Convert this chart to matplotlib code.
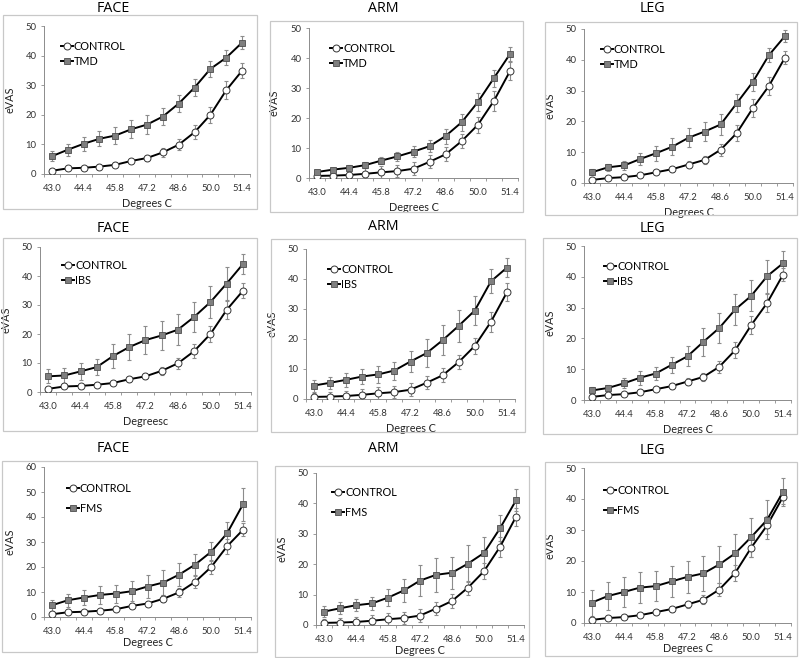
import numpy as np
import matplotlib
matplotlib.use('Agg')
import matplotlib.pyplot as plt
from matplotlib.patches import Rectangle

plt.rcParams['font.family'] = ['Lato', 'DejaVu Sans']

W, H = 800, 658

degrees = [43.0, 43.7, 44.4, 45.1, 45.8, 46.5, 47.2, 47.9, 48.6, 49.3, 50.0, 50.7, 51.4]
tick_labels = ['43.0', '44.4', '45.8', '47.2', '48.6', '50.0', '51.4']
regions = ['FACE', 'ARM', 'LEG']
groups = ['TMD', 'IBS', 'FMS']

# control group (same subjects in every row)
control_face = [1.1, 1.9, 2.1, 2.5, 3.1, 4.4, 5.4, 7.3, 9.9, 14.1, 20.0, 28.3, 34.9]
control_face_err = [0.5, 0.6, 0.7, 0.8, 0.8, 0.8, 1.0, 1.4, 1.9, 2.4, 2.8, 3.0, 2.6]
control_arm = [0.7, 0.8, 1.0, 1.4, 1.9, 2.3, 3.1, 5.4, 7.9, 12.3, 17.7, 25.7, 35.6]
control_arm_err = [1.2, 1.4, 1.7, 1.9, 2.0, 2.0, 2.1, 2.2, 2.3, 2.3, 2.6, 3.3, 3.0]
control_leg = [1.0, 1.6, 1.9, 2.5, 3.5, 4.5, 6.0, 7.5, 10.8, 16.2, 24.3, 31.5, 40.7]
control_leg_err = [0.4, 0.5, 0.5, 0.6, 0.7, 0.8, 1.0, 1.4, 2.0, 2.6, 2.9, 2.9, 2.2]

tmd_face = [6.0, 8.2, 10.2, 11.9, 13.0, 15.1, 16.7, 19.4, 23.8, 29.2, 35.5, 39.3, 44.4]
tmd_face_err = [1.7, 2.0, 2.4, 2.5, 2.9, 3.1, 3.1, 3.0, 2.9, 2.9, 2.8, 2.5, 2.1]
tmd_arm = [2.0, 2.8, 3.4, 4.3, 5.8, 7.2, 8.8, 10.6, 14.0, 18.6, 25.3, 33.3, 41.3]
tmd_arm_err = [0.5, 0.7, 0.8, 1.0, 1.2, 1.4, 1.8, 2.0, 2.5, 2.8, 3.0, 2.8, 2.3]
tmd_leg = [3.5, 5.1, 5.7, 7.8, 9.7, 11.8, 14.7, 16.7, 19.0, 25.9, 32.8, 41.5, 47.7]
tmd_leg_err = [1.0, 1.1, 1.5, 1.9, 2.4, 2.7, 3.0, 3.2, 3.3, 3.0, 2.8, 2.2, 2.0]

ibs_face = [5.4, 5.7, 7.1, 8.6, 12.4, 15.5, 17.9, 19.5, 21.5, 25.9, 31.0, 37.4, 44.1]
ibs_face_err = [2.4, 2.5, 2.8, 2.8, 4.1, 4.5, 4.9, 5.0, 5.3, 5.2, 5.6, 5.8, 3.5]
ibs_arm = [4.5, 5.4, 6.4, 7.5, 8.2, 9.5, 12.5, 15.3, 19.6, 24.4, 29.5, 39.2, 43.8]
ibs_arm_err = [2.0, 2.0, 2.4, 2.5, 2.8, 3.0, 3.6, 4.7, 5.0, 5.3, 4.8, 4.0, 3.1]
ibs_leg = [3.1, 3.9, 5.4, 7.2, 8.6, 11.4, 14.2, 18.9, 23.4, 29.4, 33.8, 40.2, 44.4]
ibs_leg_err = [1.0, 1.1, 1.6, 2.3, 2.2, 2.6, 3.2, 4.6, 5.0, 5.0, 5.0, 5.3, 4.0]

fms_face = [4.7, 6.7, 7.8, 8.8, 9.4, 10.3, 12.2, 13.8, 17.0, 21.0, 26.1, 33.5, 45.1]
fms_face_err = [2.3, 2.7, 3.0, 3.5, 3.6, 4.0, 4.6, 4.9, 4.5, 4.3, 3.8, 4.4, 6.6]
fms_arm = [4.4, 5.5, 6.5, 7.1, 9.0, 11.4, 14.6, 16.5, 17.2, 20.2, 23.7, 31.8, 41.0]
fms_arm_err = [1.8, 2.0, 2.0, 2.2, 2.8, 3.8, 5.0, 5.5, 5.3, 6.0, 5.3, 4.3, 3.6]
fms_leg = [6.6, 8.7, 10.0, 11.4, 11.9, 13.4, 14.9, 16.0, 18.9, 22.5, 27.7, 33.3, 42.3]
fms_leg_err = [4.2, 4.6, 4.9, 4.9, 4.9, 5.1, 5.2, 5.6, 6.0, 6.1, 6.3, 6.3, 4.5]

controls = [(control_face, control_face_err), (control_arm, control_arm_err), (control_leg, control_leg_err)]
patients = [
    [(tmd_face, tmd_face_err), (tmd_arm, tmd_arm_err), (tmd_leg, tmd_leg_err)],
    [(ibs_face, ibs_face_err), (ibs_arm, ibs_arm_err), (ibs_leg, ibs_leg_err)],
    [(fms_face, fms_face_err), (fms_arm, fms_arm_err), (fms_leg, fms_leg_err)],
]
ymax = [[50, 50, 50], [50, 50, 50], [60, 50, 50]]
xlabels = [['Degrees C'] * 3, ['Degreesc', 'Degrees C', 'Degrees C'], ['Degrees C'] * 3]

# layout in pixels: chart box (l, t, r, b), plot area (l, t, r, b), title centre, legend offset, legend spacing
boxes = [[(3, 15, 257, 209), (270, 21, 523, 212), (545, 22, 797, 215)],
         [(3, 238, 257, 431), (271, 239, 525, 432), (543, 238, 797, 434)],
         [(2, 461, 257, 652), (275, 466, 529, 657), (545, 462, 797, 656)]]
plots = [[(44, 26, 250, 174), (309, 28, 518, 178), (584, 29, 793, 183)],
         [(40, 247, 251, 392), (306, 249, 515, 399), (584, 246, 791, 400)],
         [(44, 467, 251, 617), (316, 473, 524, 625), (584, 468, 791, 623)]]
titles = [[(113, 8), (383, 8), (652, 9)],
          [(113, 228), (383, 227), (652, 228)],
          [(113, 449), (383, 448), (652, 450)]]
leg_off = [[(17, 15), (21, 15), (17, 15)],
           [(22, 13), (22, 15), (20, 15)],
           [(23, 16), (16, 14), (20, 17)]]
leg_space = [0.35, 0.35, 0.8]
xlab_off = [24, 24, 20]

fig = plt.figure(figsize=(8, 6.58), dpi=100)

step = degrees[1] - degrees[0]
bounds = [d - step / 2 for d in degrees] + [degrees[-1] + step / 2]

for r in range(3):
    for c in range(3):
        bl, bt, br, bb = boxes[r][c]
        fig.patches.append(Rectangle((bl / W, 1 - bb / H), (br - bl) / W, (bb - bt) / H,
                                     transform=fig.transFigure, fill=False,
                                     edgecolor='#c8c8c8', lw=0.9))
        tx, ty = titles[r][c]
        fig.text(tx / W, 1 - ty / H, regions[c], ha='center', va='center',
                 fontsize=10.3, family=['Open Sans', 'DejaVu Sans'])

        pl, pt, pr, pb = plots[r][c]
        ax = fig.add_axes([pl / W, 1 - pb / H, (pr - pl) / W, (pb - pt) / H])
        cy, ce = controls[c]
        py, pe = patients[r][c]

        ax.errorbar(degrees, cy, yerr=ce, fmt='none', ecolor='#8c8c8c', elinewidth=0.8,
                    capsize=1.5, capthick=0.8, zorder=2)
        ax.errorbar(degrees, py, yerr=pe, fmt='none', ecolor='#8c8c8c', elinewidth=0.8,
                    capsize=1.5, capthick=0.8, zorder=2)
        ax.plot(degrees, cy, '-o', color='black', lw=1.4, ms=5, mfc='white',
                mec='#333333', mew=0.7, label='CONTROL', zorder=3)
        ax.plot(degrees, py, '-s', color='black', lw=1.4, ms=4.6, mfc='#7f7f7f',
                mec='#4d4d4d', mew=0.6, label=groups[r], zorder=3)

        ax.set_xlim(bounds[0], bounds[-1])
        ax.set_ylim(0, ymax[r][c])
        ax.set_yticks(np.arange(0, ymax[r][c] + 1, 10))
        ax.set_xticks(degrees[::2])
        ax.set_xticklabels(tick_labels)
        ax.set_xticks(bounds, minor=True)
        ax.tick_params(axis='x', which='major', length=0, pad=7, labelsize=6.8, colors='#333333')
        ax.tick_params(axis='x', which='minor', length=2.5, width=0.6, color='#8c8c8c')
        ax.tick_params(axis='y', length=2.5, width=0.6, color='#8c8c8c', pad=3,
                       labelsize=6.8, labelcolor='#333333')
        for s in ['top', 'right']:
            ax.spines[s].set_visible(False)
        for s in ['left', 'bottom']:
            ax.spines[s].set_color('#8c8c8c')
            ax.spines[s].set_linewidth(0.7)

        hgt = pb - pt
        wid = pr - pl
        ax.set_xlabel(xlabels[r][c], fontsize=7.8, color='#222222')
        ax.xaxis.set_label_coords(0.5, -xlab_off[r] / hgt)
        ax.set_ylabel('eVAS', fontsize=7.8, color='#222222')
        ax.yaxis.set_label_coords(-29 / wid, 0.5)

        ox, oy = leg_off[r][c]
        ax.legend(loc='upper left', bbox_to_anchor=(ox / wid, 1 - oy / hgt), frameon=False,
                  fontsize=7.8, handlelength=1.1, handletextpad=0.1, borderpad=0,
                  borderaxespad=0, labelspacing=leg_space[r])

fig.savefig('out.png', dpi=100)
